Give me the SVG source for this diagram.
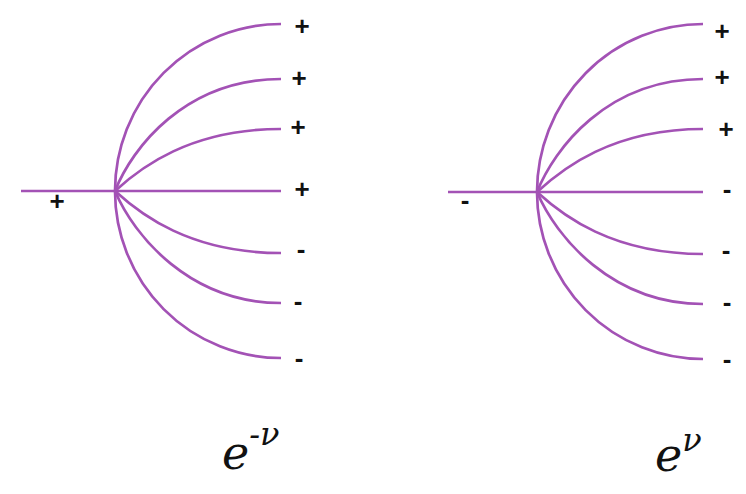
<svg xmlns="http://www.w3.org/2000/svg" width="746" height="494" viewBox="0 0 746 494">
<style>
.c{fill:none;stroke:#a352b5;stroke-width:2.7;stroke-linecap:butt}
.s{font-family:"Liberation Sans",Arial,sans-serif;font-size:26px;font-weight:bold;fill:#111;text-anchor:middle}
.m{font-family:"DejaVu Serif",serif;font-style:italic;fill:#111}
</style>
<rect width="746" height="494" fill="#fff"/>
<g id="left-diagram">
<g id="left-connectors">
<path class="c" d="M21,191 H281"/>
<path class="c" d="M115,191 A166,167 0 0 1 281,24"/>
<path class="c" d="M115,191 C132,148 185,79 281,79"/>
<path class="c" d="M115,191 C140,168 190,129 281,129"/>
<path class="c" d="M115,191 C140,214 190,253 281,253"/>
<path class="c" d="M115,191 C134,236 190,303 281,303"/>
<path class="c" d="M115,191 A166,167 0 0 0 281,358"/>
</g>
<g id="left-labels">
<text class="s" x="302" y="35">+</text>
<text class="s" x="299" y="87">+</text>
<text class="s" x="298" y="136">+</text>
<text class="s" x="302" y="198">+</text>
<text class="s" x="301" y="258">-</text>
<text class="s" x="298" y="310">-</text>
<text class="s" x="299" y="367">-</text>
<text class="s" x="57" y="210">+</text>
</g>
<text id="left-formula" class="m" x="222" y="469" font-size="46">e<tspan font-size="32" dy="-24">-ν</tspan></text>
</g>
<g id="right-diagram">
<g id="right-connectors">
<path class="c" d="M448,192 H703"/>
<path class="c" d="M537,192 A166,168 0 0 1 703,24"/>
<path class="c" d="M537,192 C554,149 607,79 703,79"/>
<path class="c" d="M537,192 C562,169 612,129 703,129"/>
<path class="c" d="M537,192 C562,215 612,254 703,254"/>
<path class="c" d="M537,192 C556,237 612,304 703,304"/>
<path class="c" d="M537,192 A166,167 0 0 0 703,359"/>
</g>
<g id="right-labels">
<text class="s" x="722" y="40">+</text>
<text class="s" x="722" y="86">+</text>
<text class="s" x="726" y="138">+</text>
<text class="s" x="727" y="198">-</text>
<text class="s" x="726" y="259">-</text>
<text class="s" x="727" y="311">-</text>
<text class="s" x="727" y="368">-</text>
<text class="s" x="465" y="209">-</text>
</g>
<text id="right-formula" class="m" x="655" y="471" font-size="46">e<tspan font-size="32" dy="-20">ν</tspan></text>
</g>
</svg>
